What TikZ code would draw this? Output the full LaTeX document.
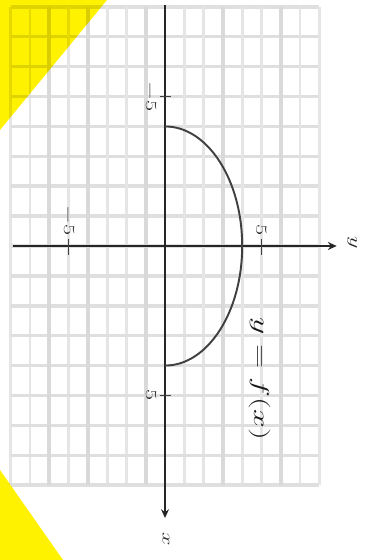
\documentclass[tikz,border=0pt]{standalone}
\usepackage{fix-cm}
\usetikzlibrary{arrows.meta}
\tikzset{
  gridline/.style={draw=gray!20,line width=1.6pt},
  gridheavy/.style={draw=gray!30,line width=2.3pt},
  rowline/.style={draw=gray!25,line width=2.0pt},
  axisline/.style={draw=black!85,line width=0.9pt,
    -{Stealth[length=5pt,width=4.5pt]}},
  tickmark/.style={draw=black!75,line width=0.9pt},
  ticklabel/.style={transform shape,font=\fontsize{23}{27}\selectfont,
    inner sep=0pt,text=black!85},
  curvelabel/.style={transform shape,font=\fontsize{32}{36}\selectfont,
    inner sep=0pt,text=black!90},
  graphline/.style={draw=black!75,line width=1.1pt},
  cornerfill/.style={fill=yellow},
}

\begin{document}
\begin{tikzpicture}[x=0.02cm,y=-0.02cm]
  \useasboundingbox (0,0) rectangle (369,560);

  % graph, turned a quarter to the right
  \begin{scope}[shift={(165,246)},x=1cm,y=1cm,rotate=-90,
                xscale=0.598,yscale=0.386]

    % grid
    \foreach \k in {-8,...,8} {
      \draw[rowline] (\k,-8) -- (\k,8);
      \draw[gridline] (-8,\k) -- (8,\k);
    }
    \foreach \k in {-6,-4,-1,3,6}
      \draw[gridheavy] (-8,\k) -- (8,\k);

    % axes
    \coordinate (xstart) at (-8.05,0);
    \coordinate (xend) at (9.1,0);
    \coordinate (ystart) at (0,-7.9);
    \coordinate (yend) at (0,8.9);
    \draw[axisline] (ystart) -- (yend);
    \draw[axisline] (xstart) -- (xend);
    \node[ticklabel] (xlabel) at (9.8,0.05) {$x$};
    \node[ticklabel] (ylabel) at (-0.12,9.7) {$y$};

    % ticks
    \foreach \k in {-5,5} {
      \draw[tickmark] (\k,-0.25) -- (\k,0.3);
      \draw[tickmark] (-0.25,\k) -- (0.3,\k);
    }
    \node[ticklabel,anchor=north] (xneg) at (-5,-0.45) {$-5$};
    \node[ticklabel,anchor=north] (xpos) at (5,-0.45) {$5$};
    \node[ticklabel,anchor=east] (yneg) at (-0.35,-5) {$-5$};
    \node[ticklabel,anchor=east] (ypos) at (-0.35,5) {$5$};

    % the half circle
    \draw[graphline] (-4,0) arc[start angle=180,end angle=0,radius=4];
    \node[curvelabel] (flabel) at (4.45,4.9) {$y = f(x)$};
  \end{scope}

  % yellow corners
  \begin{scope}[blend mode=multiply]
    \fill[cornerfill] (0,0) -- (107,0) -- (0,130) -- cycle;
    \fill[cornerfill] (0,470) -- (63,560) -- (0,560) -- cycle;
  \end{scope}
\end{tikzpicture}
\end{document}
